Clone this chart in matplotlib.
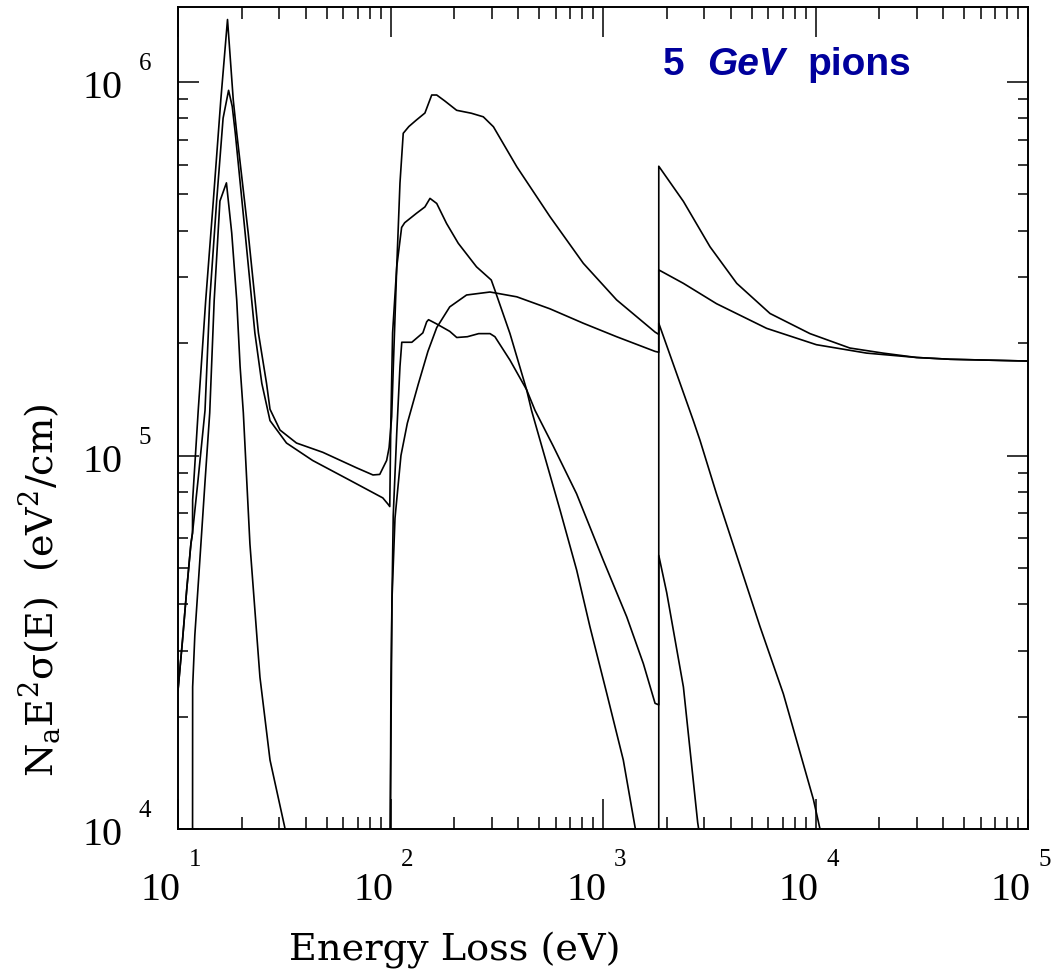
import matplotlib
matplotlib.use("Agg")
import matplotlib.pyplot as plt
from matplotlib.ticker import LogLocator, NullFormatter
from matplotlib.transforms import offset_copy

# ---- data: N_a E^2 sigma(E) for 5 GeV pions in silicon ----
# total
total_E = [10, 10.5, 11.0, 11.5, 11.7, 11.72, 12.45, 13.5, 14.66, 15.9, 17.1,
           18.2, 18.9, 21.4, 23.9, 26.1, 27.1, 30.2, 36.1, 48.0, 69.2, 82.7,
           89.0, 95.9, 98.5, 101.3, 103.1, 107.0, 110.8, 114.8, 122, 132, 145.2,
           156.3, 165, 180, 204.8, 240, 273.3, 305, 393, 563, 808, 1159, 1758,
           1830, 1830, 2390, 3190, 4260, 6110, 9420, 14500, 20800, 29900, 43000,
           100000]
total_Y = [2.35e4, 3.2e4, 4.4e4, 5.8e4, 6.2e4, 7.6e4, 1.32e5, 2.6e5, 4.8e5, 8.95e5,
           1.47e6, 8.95e5, 7.3e5, 3.94e5, 2.13e5, 1.56e5, 1.33e5, 1.17e5, 1.08e5,
           1.02e5, 9.27e4, 8.87e4, 8.9e4, 9.7e4, 1.05e5, 1.27e5, 1.73e5, 3.2e5,
           5.36e5, 7.29e5, 7.6e5, 7.9e5, 8.26e5, 9.23e5, 9.23e5, 8.9e5, 8.4e5,
           8.25e5, 8.07e5, 7.59e5, 5.93e5, 4.36e5, 3.27e5, 2.61e5, 2.14e5,
           2.11e5, 5.95e5, 4.79e5, 3.62e5, 2.89e5, 2.40e5, 2.12e5, 1.94e5,
           1.88e5, 1.83e5, 1.81e5, 1.79e5]

# resonance (transverse) term
reson_E = [10, 10.5, 11.0, 11.5, 11.7, 12.4, 13.4, 14.1, 15.2, 16.3, 17.3, 18.0,
           18.6, 20.7, 23.0, 24.8, 27.1, 32.4, 43, 64, 92, 97.5, 99.2, 100.3,
           102.3, 107, 112.8, 116.6, 132.4, 145.2, 153.4, 165, 183.6, 208.4, 254,
           298, 310, 365, 437, 461, 628, 752, 868, 1041, 1246, 1416, 1500, 1830,
           1830, 2661, 2858, 3420, 5484, 7060, 9775, 10500, 11500]
reson_Y = [2.35e4, 3.2e4, 4.4e4, 5.8e4, 6.2e4, 8.5e4, 1.32e5, 2.6e5, 4.8e5, 8.0e5,
           9.5e5, 8.6e5, 7.3e5, 3.94e5, 2.13e5, 1.56e5, 1.24e5, 1.08e5, 9.7e4,
           8.6e4, 7.7e4, 7.4e4, 7.3e4, 1.2e5, 2.13e5, 3.2e5, 4.08e5, 4.2e5, 4.45e5,
           4.63e5, 4.88e5, 4.73e5, 4.18e5, 3.7e5, 3.2e5, 2.95e5, 2.77e5, 2.12e5,
           1.5e5, 1.32e5, 7.14e4, 4.93e4, 3.48e4, 2.31e4, 1.53e4, 1.01e4, 8.5e3,
           8.5e3, 2.26e5, 1.24e5, 1.1e5, 7.9e4, 3.48e4, 2.3e4, 1.2e4, 1.0e4, 8.5e3]

# longitudinal term
longi_E = [11.7, 11.72, 12.0, 12.6, 13.4, 14.1, 14.8, 15.75, 16.9, 17.9, 18.9,
           19.6, 20.3, 21.8, 24.3, 27.1, 31.8, 34, 99.5, 101.6, 103, 107, 110.8,
           113, 126, 142, 148, 151, 165, 190, 205, 230, 260, 294, 310, 365, 437,
           479, 583, 751, 1002, 1293, 1549, 1758, 1830, 1830, 1995, 2390, 2790,
           2900]
longi_Y = [5e3, 2.4e4, 3.3e4, 5e4, 8.5e4, 1.3e5, 2.6e5, 4.8e5, 5.37e5, 3.94e5,
           2.6e5, 1.73e5, 1.3e5, 5.8e4, 2.55e4, 1.53e4, 1.01e4, 8e3, 8e3, 4.1e4,
           6.9e4, 1.15e5, 1.73e5, 2.01e5, 2.01e5, 2.13e5, 2.28e5, 2.31e5, 2.25e5,
           2.15e5, 2.07e5, 2.08e5, 2.12e5, 2.12e5, 2.08e5, 1.8e5, 1.5e5, 1.32e5,
           1.06e5, 7.9e4, 5.25e4, 3.7e4, 2.77e4, 2.17e4, 2.15e4, 5.4e4, 4.29e4,
           2.4e4, 1.04e4, 9e3]

# close-collision term
close_E = [99.2, 100.5, 101.6, 105, 112, 120, 135, 150, 165, 190, 228, 294, 393,
           563, 808, 1159, 1758, 1830, 1830, 2390, 3420, 5890, 10100, 17400,
           29900, 43000, 100000]
close_Y = [5e3, 2.5e4, 4.1e4, 6.8e4, 1.0e5, 1.22e5, 1.55e5, 1.9e5, 2.2e5, 2.5e5,
           2.69e5, 2.74e5, 2.66e5, 2.47e5, 2.26e5, 2.08e5, 1.90e5, 1.89e5,
           3.14e5, 2.89e5, 2.55e5, 2.19e5, 1.98e5, 1.88e5, 1.83e5, 1.81e5, 1.79e5]

x_ticks = [1, 2, 3, 4, 5]
y_ticks = [4, 5, 6]
title_parts = ["5", "GeV", "pions"]

# ---- figure ----
plt.rcParams["mathtext.fontset"] = "custom"
plt.rcParams["mathtext.rm"] = "DejaVu Serif"
num_font = "Liberation Serif"
lab_font = "DejaVu Serif"

W, H = 1058, 972
fig = plt.figure(figsize=(W / 100, H / 100), dpi=100)
ax = fig.add_axes([178 / W, 1 - 829 / H, 850 / W, 822 / H])

for E, Y in [(total_E, total_Y), (reson_E, reson_Y),
             (longi_E, longi_Y), (close_E, close_Y)]:
    ax.plot(E, Y, color="black", lw=1.2)

ax.set_xscale("log")
ax.set_yscale("log")
ax.set_xlim(1e1, 1e5)
ax.set_ylim(1e4, 1.588e6)

for axis in (ax.xaxis, ax.yaxis):
    axis.set_major_locator(LogLocator(10, numticks=20))
    axis.set_minor_locator(LogLocator(10, subs=range(2, 10), numticks=60))
    axis.set_minor_formatter(NullFormatter())

ax.tick_params(which="both", direction="in", top=True, right=True,
               labelbottom=False, labelleft=False, width=1.1, color="black")
px = 72 / 100
ax.tick_params(axis="x", which="major", length=30 * px)
ax.tick_params(axis="x", which="minor", length=12 * px)
ax.tick_params(axis="y", which="major", length=21 * px)
ax.tick_params(axis="y", which="minor", length=10 * px)
for sp in ax.spines.values():
    sp.set_linewidth(1.4)

# tick labels: "10" with a raised exponent
xt = ax.get_xaxis_transform()
for k in x_ticks:
    ax.text(10 ** k, 0, "10", transform=offset_copy(xt, fig=fig, x=-17, y=-71, units="dots"),
            ha="center", va="baseline", fontsize=29, family=num_font)
    ax.text(10 ** k, 0, str(k), transform=offset_copy(xt, fig=fig, x=17, y=-37, units="dots"),
            ha="center", va="baseline", fontsize=18, family=num_font)

yt = ax.get_yaxis_transform()
for k in y_ticks:
    ax.text(0, 10 ** k, "10", transform=offset_copy(yt, fig=fig, x=-76, y=-16, units="dots"),
            ha="center", va="baseline", fontsize=29, family=num_font)
    ax.text(0, 10 ** k, str(k), transform=offset_copy(yt, fig=fig, x=-33, y=12, units="dots"),
            ha="center", va="baseline", fontsize=18, family=num_font)

fig.text(455 / W, 1 - 960 / H, "Energy Loss (eV)", ha="center", va="baseline",
         fontsize=27.5, family=lab_font)
fig.text(40 / W, 1 - 590 / H,
         r"N$_\mathregular{a}$E$^\mathregular{2}$σ(E)  (eV$^\mathregular{2}$/cm)",
         rotation=90, ha="center", va="center", fontsize=27.5, family=lab_font)

navy = "#00009C"
fig.text(663 / W, 1 - 75 / H, title_parts[0], ha="left", va="baseline", fontsize=28,
         family="Liberation Sans", weight="bold", color=navy)
fig.text(707 / W, 1 - 75 / H, title_parts[1], ha="left", va="baseline", fontsize=28,
         family="Liberation Sans", weight="bold", style="italic", color=navy)
fig.text(807 / W, 1 - 75 / H, title_parts[2], ha="left", va="baseline", fontsize=28,
         family="Liberation Sans", weight="bold", color=navy)

fig.savefig("out.png", dpi=100)
